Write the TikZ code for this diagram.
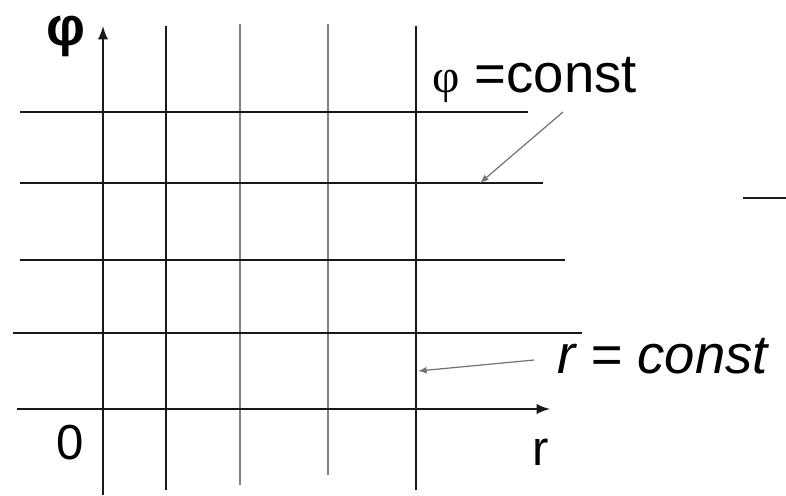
\documentclass[tikz,border=0pt]{standalone}
\usepackage{fontspec}
\setmainfont{Liberation Sans}
\newfontfamily\greekserif{Liberation Serif}
\begin{document}
\begin{tikzpicture}[x=0.02cm, y=-0.02cm,
    gridline/.style={line width=1.6pt, black!90},
    faintline/.style={line width=1.1pt, black!50},
    pointer/.style={line width=0.7pt, black!55, -latex},
    biglabel/.style={font=\fontsize{31}{31}\selectfont, inner sep=0pt},
    axislabel/.style={font=\fontsize{28}{28}\selectfont, inner sep=0pt}]
    \useasboundingbox (0,0) rectangle (786,495);

    % r = const lines
    \draw[gridline, -latex] (103,495) -- (103,26);
    \draw[gridline] (166,490) -- (166,26);
    \draw[faintline] (240,485) -- (240,24);
    \draw[faintline] (328,475) -- (328,24);
    \draw[gridline] (416,490) -- (416,26);

    % phi = const lines
    \draw[gridline] (20,112) -- (528,112);
    \draw[gridline] (20,183) -- (543,183);
    \draw[gridline] (20,260) -- (565,260);
    \draw[gridline] (13,333) -- (582,333);
    \draw[gridline, -latex] (17,409) -- (550,409);
    \draw[gridline] (743,198) -- (786,198);

    \node[axislabel, font=\fontsize{31}{31}\selectfont\bfseries, text height=20pt, text depth=7pt] (phiaxis) at (66,34) {φ};
    \node[axislabel] (origin) at (70,443) {0};
    \node[axislabel] (raxis) at (541,452) {r};

    \node[biglabel, anchor=base west] (phiconst) at (432,92)
        {{\greekserif\fontsize{27}{27}\selectfont φ} =const};
    \node[biglabel, anchor=base west, font=\fontsize{31}{31}\selectfont\itshape] (rconst) at (557,373) {r = const};

    \coordinate (phifrom) at (563,112);
    \coordinate (phitip) at (480,183);
    \coordinate (rfrom) at (534,360);
    \coordinate (rtip) at (418,371);
    \draw[pointer] (phifrom) -- (phitip);
    \draw[pointer] (rfrom) -- (rtip);
\end{tikzpicture}
\end{document}
